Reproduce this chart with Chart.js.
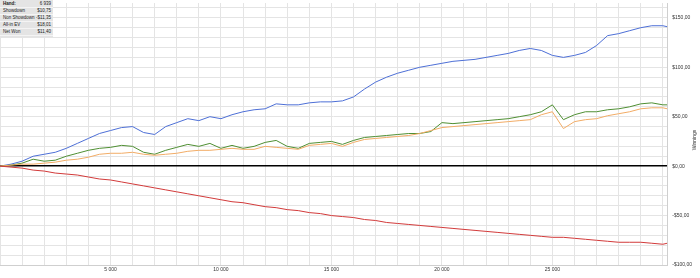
<!DOCTYPE html>
<html>
<head>
<meta charset="utf-8">
<script src="https://cdn.jsdelivr.net/npm/chart.js@4.4.1/dist/chart.umd.min.js"></script>
<style>
html,body{margin:0;padding:0;background:#fff;}
#wrap{position:relative;width:700px;height:278px;}
#info{position:absolute;left:0;top:0;width:53px;background:#e4e4e4;font-family:"Liberation Sans",Arial,sans-serif;font-size:4.5px;color:#222;line-height:5.9px;padding:1px 0;white-space:nowrap;}
#info div{display:flex;justify-content:space-between;padding:0 2px 0 3px;border-bottom:0.5px solid #f4f4f4;}
#info div:first-child b{font-weight:bold;}
</style>
</head>
<body>
<div id="wrap">
<canvas id="c" width="700" height="278"></canvas>
<div id="info">
<div><b>Hand:</b><span>6 939</span></div>
<div><span>Showdown</span><span>$10,75</span></div>
<div><span>Non Showdown</span><span>-$11,35</span></div>
<div><span>All-in EV</span><span>$18,01</span></div>
<div><span>Net Won</span><span>$11,40</span></div>
</div>
</div>
<script>
const hands = [0,500,1000,1500,2000,2500,3000,3500,4000,4500,
5000,5500,6000,6500,7000,7500,8000,8500,9000,
9500,10000,10500,11000,11500,12000,12500,13000,13500,
14000,14500,15000,15500,16000,16500,17000,17500,18000,
18500,19000,19500,20000,20500,21000,21500,22000,22500,
23000,23500,24000,24500,25000,25500,26000,26500,27000,
27500,28000,28500,29000,29500,30000,30200];

const showdown = [0,2,5,10,12,14,18,23,28,33,
36,39,40,34,32,40,44,48,46,
50,48,52,55,57,58,63,62,62,
64,65,65,66,70,78,85,90,94,
97,100,102,104,106,107,108,110,112,
114,117,119,117,112,110,112,115,122,
132,134,137,140,142,142,141];

const netWon = [0,1,3,7,5,6,10,13,16,18,
19,21,20,14,12,16,19,22,20,
23,18,21,18,20,24,26,20,18,
23,24,25,22,26,29,30,31,32,
33,33,35,44,43,44,45,46,47,
48,50,52,55,62,47,52,55,55,
57,58,60,63,64,62,62];

const allInEV = [0,1,2,2,3,4,6,7,9,12,
13,13,14,12,11,12,13,15,16,
16,17,18,17,17,20,19,18,17,
21,22,23,20,24,27,28,29,30,
31,33,36,39,40,41,42,43,44,
45,46,47,52,55,38,45,47,48,
51,53,55,58,59,59,58];

const nonShowdown = [0,-1,-2,-4,-5,-7,-8,-9,-11,-13,
-14,-16,-18,-20,-22,-24,-26,-28,-30,
-32,-34,-36,-37,-39,-41,-42,-44,-45,
-47,-48,-50,-51,-52,-54,-55,-57,-58,
-59,-60,-61,-62,-63,-64,-65,-66,-67,
-68,-69,-70,-71,-72,-72,-73,-74,-75,
-76,-77,-77,-77,-78,-79,-78];

// gridline positions (tick values) and labelled ticks
const xGrid = [0,1000,2000,3000,4000,5000,6000,7000,8000,9000,10000,11000,12000,13000,14000,15000,16000,17000,18000,19000,20000,21000,22000,23000,24000,25000,26000,27000,28000,29000,30000];
const xLabels = [5000,10000,15000,20000,25000];
const yGrid = [-100,-90,-80,-70,-60,-50,-40,-30,-20,-10,0,10,20,30,40,50,60,70,80,90,100,110,120,130,140,150,160];
const yLabels = [-100,-50,0,50,100,150];
const X_MAX = 30200, Y_MIN = -100, Y_MAX = 165;

const pts = arr => arr.map((v,i)=>({x:hands[i], y:v}));
const mk = (label, arr, color) => ({label, data: pts(arr), borderColor: color, backgroundColor: color, borderWidth: 1, pointRadius: 0, tension: 0, fill: false});

const titlePlugin = {
  id: 'ytitle',
  afterDraw(chart){
    const ctx = chart.ctx;
    ctx.save();
    ctx.translate(695, 140);
    ctx.rotate(-Math.PI/2);
    ctx.font = '5px "Liberation Sans", Arial, sans-serif';
    ctx.fillStyle = '#333';
    ctx.textAlign = 'center';
    ctx.textBaseline = 'middle';
    ctx.fillText('Winnings', 0, 0);
    ctx.restore();
  }
};

const FONT = '"Liberation Sans", Arial, sans-serif';
const fmtX = v => (v/1000) + ' 000';
const fmtY = v => (v < 0 ? '-$' + Math.abs(v) : '$' + v) + ',00';

new Chart(document.getElementById('c'), {
  type: 'line',
  data: { datasets: [
    mk('Non Showdown', nonShowdown, '#d23a3a'),
    mk('All-in EV', allInEV, '#f2ac66'),
    mk('Net Won', netWon, '#4f8f33'),
    mk('Showdown', showdown, '#4d6fd6')
  ]},
  options: {
    responsive: false,
    animation: false,
    events: [],
    layout: { padding: { left: 0, top: 0, right: 8, bottom: 5 } },
    plugins: { legend: { display: false }, tooltip: { enabled: false } },
    scales: {
      x: {
        type: 'linear', min: 0, max: X_MAX,
        afterBuildTicks: axis => { axis.ticks = xGrid.map(v => ({value: v})); },
        border: { display: true, color: '#cfcfcf' },
        grid: { color: '#e4e4e4', lineWidth: 1, drawTicks: true, tickLength: 2, tickColor: 'rgba(0,0,0,0)' },
        ticks: {
          autoSkip: false, maxRotation: 0, padding: 0,
          font: { size: 5, family: FONT }, color: '#333',
          callback: v => xLabels.includes(v) ? fmtX(v) : ''
        }
      },
      y: {
        position: 'right', min: Y_MIN, max: Y_MAX,
        afterBuildTicks: axis => { axis.ticks = yGrid.map(v => ({value: v})).concat([{value: Y_MAX}]); },
        border: { display: true, color: '#cfcfcf' },
        grid: {
          drawTicks: true, tickLength: 5, tickColor: 'rgba(0,0,0,0)',
          color: c => c.tick && c.tick.value === 0 ? '#000' : '#e4e4e4',
          lineWidth: c => c.tick && c.tick.value === 0 ? 1.5 : 1
        },
        ticks: {
          autoSkip: false, padding: 0,
          font: { size: 5, family: FONT }, color: '#333',
          callback: v => v === Y_MAX ? null : (yLabels.includes(v) ? fmtY(v) : '')
        }
      }
    }
  },
  plugins: [titlePlugin]
});
</script>
</body>
</html>
